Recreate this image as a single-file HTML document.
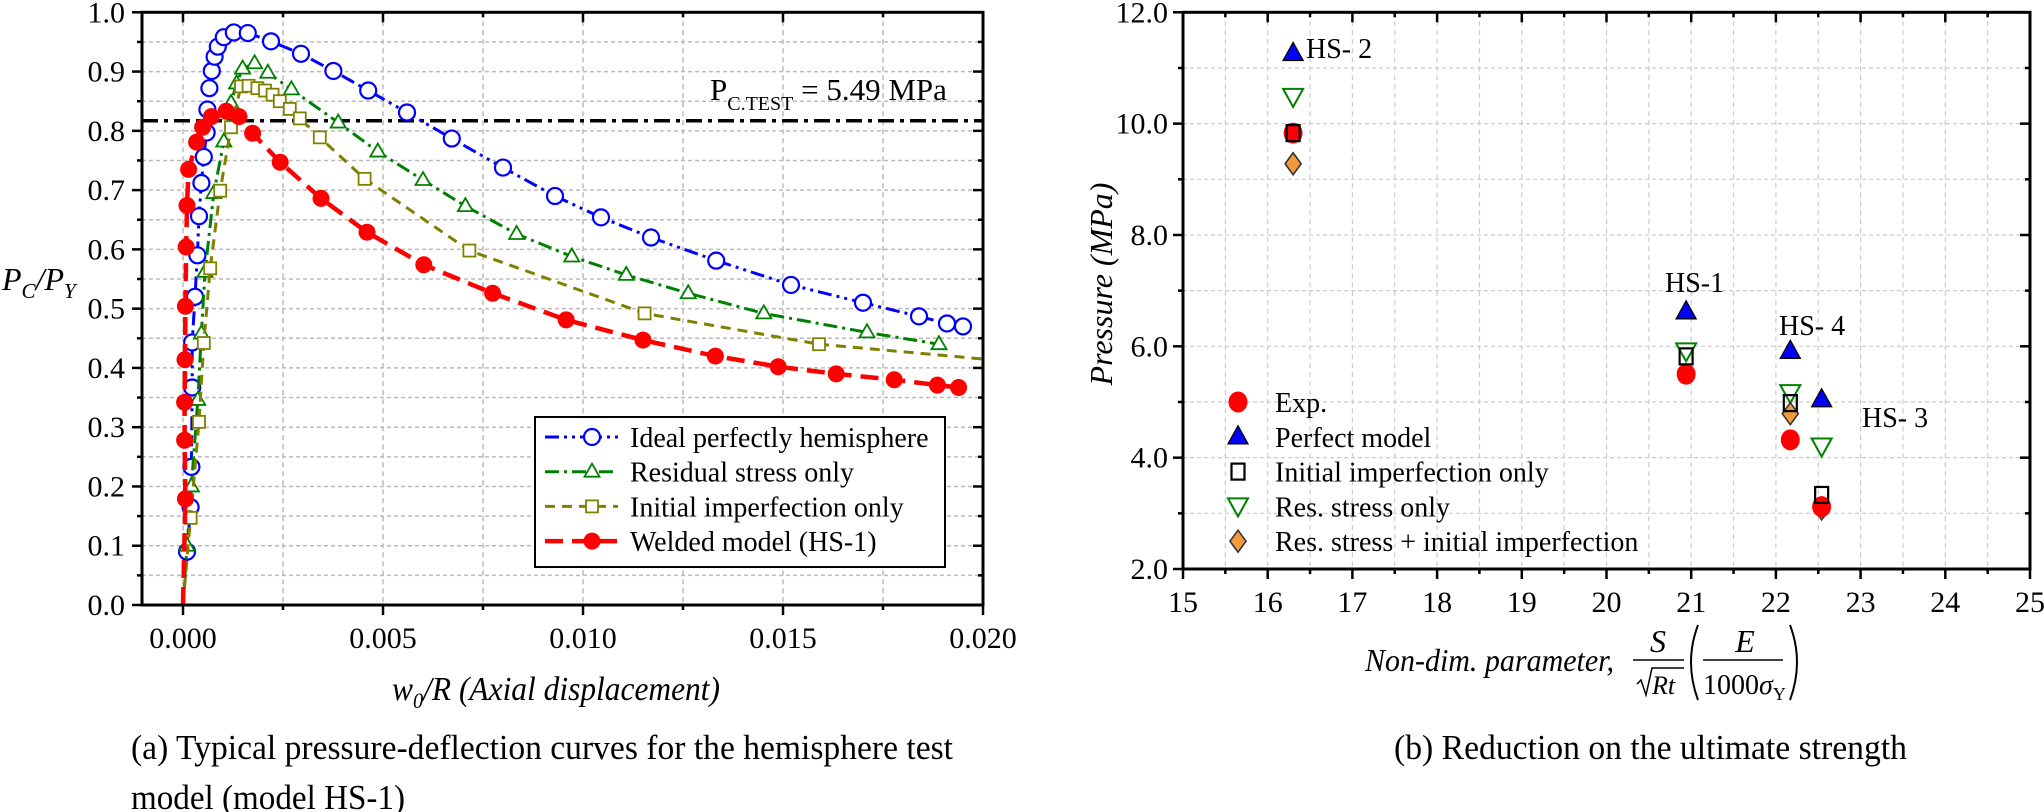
<!DOCTYPE html>
<html><head><meta charset="utf-8"><style>
html,body{margin:0;padding:0;background:#fff;}
svg{display:block;font-family:"Liberation Serif",serif;}
</style></head><body>
<svg id="fig" width="2044" height="812" viewBox="0 0 2044 812" xmlns="http://www.w3.org/2000/svg" font-family="Liberation Serif, serif">
<g id="left"></g>
<g id="right"></g>
<text x="131" y="759" font-size="35" textLength="822" lengthAdjust="spacingAndGlyphs">(a) Typical pressure-deflection curves for the hemisphere test</text>
<text x="131" y="809" font-size="35" textLength="274" lengthAdjust="spacingAndGlyphs">model (model HS-1)</text>
<text x="1394" y="759" font-size="35" textLength="513" lengthAdjust="spacingAndGlyphs">(b) Reduction on the ultimate strength</text>
</svg>
<script>
// ===== Left chart data =====
const idealX = [0,0.0001,0.00019,0.00021,0.00023,0.00023,0.0003,0.00036,0.0004,0.00046,0.00052,0.00059,0.00061,0.00066,0.00072,0.00079,0.00087,0.00102,0.00127,0.00162,0.0022,0.00295,0.00376,0.00463,0.0056,0.00672,0.008,0.0093,0.01045,0.0117,0.01333,0.0152,0.0170,0.0184,0.0191,0.0195];
const idealY = [0,0.09,0.165,0.233,0.367,0.443,0.52,0.59,0.656,0.712,0.756,0.797,0.836,0.872,0.901,0.925,0.942,0.958,0.966,0.965,0.951,0.93,0.901,0.868,0.831,0.787,0.738,0.69,0.654,0.62,0.581,0.54,0.51,0.487,0.475,0.47];
const resX = [0,0.0001,0.00021,0.00037,0.00046,0.00055,0.00077,0.00102,0.0012,0.00134,0.00149,0.00179,0.00212,0.00271,0.00388,0.00487,0.006,0.00706,0.00834,0.00972,0.01108,0.01263,0.01452,0.0171,0.0189];
const resY = [0,0.1,0.2,0.346,0.458,0.562,0.695,0.782,0.847,0.88,0.905,0.914,0.898,0.87,0.814,0.765,0.717,0.673,0.626,0.588,0.557,0.526,0.492,0.46,0.44];
const impX = [0,0.00019,0.0004,0.00052,0.00068,0.00093,0.0012,0.00145,0.00164,0.00186,0.00205,0.00224,0.00242,0.00267,0.00292,0.00342,0.00454,0.00716,0.01154,0.0159];
const impY = [0,0.147,0.309,0.442,0.568,0.699,0.806,0.875,0.876,0.872,0.868,0.861,0.85,0.837,0.821,0.789,0.719,0.598,0.492,0.44];
const impTailX = [0.0159,0.020];
const impTailY = [0.44,0.415];
const weldX = [0,0.00006,0.00004,0.00004,0.00005,0.00006,0.00008,0.0001,0.00014,0.00034,0.00049,0.00071,0.00108,0.0014,0.00174,0.00243,0.00345,0.0046,0.00602,0.00774,0.00958,0.0115,0.01331,0.01488,0.01633,0.01778,0.01886,0.01939];
const weldY = [0,0.179,0.278,0.342,0.414,0.504,0.604,0.674,0.735,0.781,0.806,0.824,0.833,0.824,0.796,0.747,0.686,0.629,0.574,0.526,0.481,0.447,0.42,0.402,0.39,0.38,0.371,0.367];
const pTest = 0.817;
const leftXTicks = [0,0.005,0.01,0.015,0.02];
const leftXTickLabels = ["0.000","0.005","0.010","0.015","0.020"];
const leftYTicks = [0,0.1,0.2,0.3,0.4,0.5,0.6,0.7,0.8,0.9,1.0];
const leftYTickLabels = ["0.0","0.1","0.2","0.3","0.4","0.5","0.6","0.7","0.8","0.9","1.0"];

// ===== Right chart data =====
const rightCats = ["HS-1","HS-2","HS-3","HS-4"];
const paramX = [20.94,16.30,22.54,22.17];
const expP = [5.50,9.83,3.12,4.32];
const perfectP = [6.62,11.26,5.04,5.91];
const initImpP = [5.82,9.83,3.33,4.98];
const resStressP = [5.91,10.48,4.20,5.16];
const comboP = [null,9.28,3.08,4.79];
const rightXTicks = [15,16,17,18,19,20,21,22,23,24,25];
const rightXTickLabels = ["15","16","17","18","19","20","21","22","23","24","25"];
const rightYTicks = [2,4,6,8,10,12];
const rightYTickLabels = ["2.0","4.0","6.0","8.0","10.0","12.0"];

const NS="http://www.w3.org/2000/svg";
function mk(parent,tag,attrs,text){const e=document.createElementNS(NS,tag);for(const k in attrs)e.setAttribute(k,attrs[k]);if(text!==undefined)e.textContent=text;parent.appendChild(e);return e;}

// ---------- LEFT ----------
const L=document.getElementById('left');
const LX0=142,LX1=983,LY0=12.3,LY1=605;
const lx=v=>183+v/0.005*200;
const ly=v=>605-v*592.7;
for(let i=0;i<=8;i++){const v=i*0.0025;const x=lx(v);
 const g=mk(L,'line',{x1:x,x2:x,y1:LY0,y2:LY1,stroke:'#bbb','stroke-width':1.5,'stroke-dasharray':'5 4'});
 
 }
for(let i=1;i<20;i++){const y=ly(i*0.05);
 const g=mk(L,'line',{x1:LX0,x2:LX1,y1:y,y2:y,stroke:'#bbb','stroke-width':1.5,'stroke-dasharray':'4 3'});
 
 }
for(let i=0;i<=8;i++){const x=lx(i*0.0025);const len=i%2===0?10:5;
 const t=mk(L,'line',{x1:x,x2:x,y1:LY1,y2:LY1+len,stroke:'#000','stroke-width':2.5});
 
 
 const t2=mk(L,'line',{x1:x,x2:x,y1:LY0,y2:LY0+len,stroke:'#000','stroke-width':2.5});
 
 }
for(let i=0;i<=20;i++){const y=ly(i*0.05);const len=i%2===0?10:5;
 const t=mk(L,'line',{x1:LX0-len,x2:LX0,y1:y,y2:y,stroke:'#000','stroke-width':2.5});
 
 
 const t2=mk(L,'line',{x1:LX1-len,x2:LX1,y1:y,y2:y,stroke:'#000','stroke-width':2.5});
 
 }
leftXTicks.forEach((v,i)=>{const t=mk(L,'text',{x:lx(v),y:648,'font-size':30,'text-anchor':'middle'},leftXTickLabels[i]);
 
 });
leftYTicks.forEach((v,i)=>{const t=mk(L,'text',{x:125,y:ly(v)+10,'font-size':30,'text-anchor':'end'},leftYTickLabels[i]);
 
 });
{const r=mk(L,'line',{x1:LX0,x2:LX1,y1:ly(pTest),y2:ly(pTest),stroke:'#000','stroke-width':3.5,'stroke-dasharray':'16 6 4 6'});
 
 
 const t=mk(L,'text',{x:710,y:100,'font-size':31});
 
 
 mk(t,'tspan',{},'P');mk(t,'tspan',{'font-size':20,dy:10},'C.TEST');mk(t,'tspan',{dy:-10},' = 5.49 MPa');}
function path(xs,ys,fx,fy){return xs.map((v,i)=>(i?'L':'M')+fx(v).toFixed(1)+' '+fy(ys[i]).toFixed(1)).join(' ');}
function series(name,xs,ys,color,dash,w,marker){
 const p=mk(L,'path',{d:path(xs,ys,lx,ly),fill:'none',stroke:color,'stroke-width':w,'stroke-dasharray':dash});
 
 
 xs.forEach((v,i)=>{if(i===0)return;const x=lx(v),y=ly(ys[i]);let m;
  if(marker==='circle')m=mk(L,'circle',{cx:x,cy:y,r:8,fill:'#fff',stroke:color,'stroke-width':2.2});
  else if(marker==='dot')m=mk(L,'circle',{cx:x,cy:y,r:8.5,fill:color});
  else if(marker==='tri')m=mk(L,'path',{d:`M${x} ${y-8}L${x+7.5} ${y+5}L${x-7.5} ${y+5}Z`,fill:'#fff',stroke:color,'stroke-width':1.8});
  else m=mk(L,'rect',{x:x-6,y:y-6,width:12,height:12,fill:'#fff',stroke:color,'stroke-width':1.8});
  
  });}
series('ideal',idealX,idealY,'#0000ff','14 5 3 5 3 5',3,'circle');
series('residual',resX,resY,'#008000','14 5 3 5',3,'tri');
{const p=mk(L,'path',{d:path(impTailX,impTailY,lx,ly),fill:'none',stroke:'#808000','stroke-width':3,'stroke-dasharray':'10 7'});
 
 }
series('imperfection',impX,impY,'#808000','10 7',3,'square');
series('welded',weldX,weldY,'#ff0000','18 9',4.5,'dot');
{const f=mk(L,'rect',{x:LX0,y:LY0,width:LX1-LX0,height:LY1-LY0,fill:'none',stroke:'#000','stroke-width':3});
 
 }
{const lg=mk(L,'g',{});
 
 
 mk(lg,'rect',{x:535,y:417,width:410,height:150,fill:'#fff',stroke:'#000','stroke-width':2});
 const items=[['Ideal perfectly hemisphere','#0000ff','14 5 3 5 3 5','circle'],['Residual stress only','#008000','14 5 3 5','tri'],['Initial imperfection only','#808000','10 7','square'],['Welded model (HS-1)','#ff0000','18 9','dot']];
 items.forEach((it,i)=>{const y=437+i*34.7;
  const e=mk(lg,'g',{});
  
  
  mk(e,'line',{x1:545,x2:618,y1:y,y2:y,stroke:it[1],'stroke-width':it[3]==='dot'?4.5:3,'stroke-dasharray':it[2]});
  const x=592;
  if(it[3]==='circle')mk(e,'circle',{cx:x,cy:y,r:8,fill:'#fff',stroke:it[1],'stroke-width':2.2});
  else if(it[3]==='dot')mk(e,'circle',{cx:x,cy:y,r:8.5,fill:it[1]});
  else if(it[3]==='tri')mk(e,'path',{d:`M${x} ${y-8}L${x+7.5} ${y+5}L${x-7.5} ${y+5}Z`,fill:'#fff',stroke:it[1],'stroke-width':1.8});
  else mk(e,'rect',{x:x-6,y:y-6,width:12,height:12,fill:'#fff',stroke:it[1],'stroke-width':1.8});
  mk(e,'text',{x:630,y:y+10,'font-size':28},it[0]);});}
{const t=mk(L,'text',{x:392,y:700,'font-size':34,'font-style':'italic',textLength:328,lengthAdjust:'spacingAndGlyphs'});
 
 
 mk(t,'tspan',{},'w');mk(t,'tspan',{'font-size':22,dy:8},'0');mk(t,'tspan',{dy:-8},'/R (Axial displacement)');
 const y=mk(L,'text',{x:2,y:290,'font-size':32,'font-style':'italic'});
 
 
 mk(y,'tspan',{},'P');mk(y,'tspan',{'font-size':21,dy:8},'C');mk(y,'tspan',{dy:-8},'/P');mk(y,'tspan',{'font-size':21,dy:8},'Y');}

// ---------- RIGHT ----------
const R=document.getElementById('right');
const RX0=1183,RX1=2030,RY0=12.3,RY1=569;
const rx=v=>1183+(v-15)*84.7;
const ry=v=>569-(v-2)*55.67;
for(let i=1;i<20;i++){const x=rx(15+i*0.5);
 const g=mk(R,'line',{x1:x,x2:x,y1:RY0,y2:RY1,stroke:'#ccc','stroke-width':1.2,'stroke-dasharray':'5 4'});
 
 }
for(let i=1;i<10;i++){const y=ry(2+i);
 const g=mk(R,'line',{x1:RX0,x2:RX1,y1:y,y2:y,stroke:'#ccc','stroke-width':1.2,'stroke-dasharray':'4 3'});
 
 }
for(let i=0;i<=20;i++){const x=rx(15+i*0.5);const len=i%2===0?10:5;
 const t=mk(R,'line',{x1:x,x2:x,y1:RY1,y2:RY1+len,stroke:'#000','stroke-width':2.5});
 
 
 const t2=mk(R,'line',{x1:x,x2:x,y1:RY0,y2:RY0+len,stroke:'#000','stroke-width':2.5});
 
 }
for(let i=0;i<=10;i++){const y=ry(2+i);const len=i%2===0?10:5;
 const t=mk(R,'line',{x1:RX0-len,x2:RX0,y1:y,y2:y,stroke:'#000','stroke-width':2.5});
 
 
 const t2=mk(R,'line',{x1:RX1-len,x2:RX1,y1:y,y2:y,stroke:'#000','stroke-width':2.5});
 
 }
rightXTicks.forEach((v,i)=>{const t=mk(R,'text',{x:rx(v),y:612,'font-size':30,'text-anchor':'middle'},rightXTickLabels[i]);
 
 });
rightYTicks.forEach((v,i)=>{const t=mk(R,'text',{x:1168,y:ry(v)+10,'font-size':30,'text-anchor':'end'},rightYTickLabels[i]);
 
 });
{const f=mk(R,'rect',{x:RX0,y:RY0,width:RX1-RX0,height:RY1-RY0,fill:'none',stroke:'#000','stroke-width':3});
 
 }
function rmark(parent,kind,x,y){
 if(kind==='exp')return mk(parent,'ellipse',{cx:x,cy:y,rx:9.5,ry:10.5,fill:'#ff0000'});
 if(kind==='perfect')return mk(parent,'path',{d:`M${x} ${y-11}L${x+10} ${y+7}L${x-10} ${y+7}Z`,fill:'#0000ff',stroke:'#000','stroke-width':1.3});
 if(kind==='imp')return mk(parent,'rect',{x:x-6.5,y:y-8,width:13,height:16,fill:'none',stroke:'#000','stroke-width':2.2});
 if(kind==='res')return mk(parent,'path',{d:`M${x-10} ${y-8}L${x+10} ${y-8}L${x} ${y+10}Z`,fill:'#fff',stroke:'#008000','stroke-width':2});
 return mk(parent,'path',{d:`M${x} ${y-11}L${x+8} ${y}L${x} ${y+11}L${x-8} ${y}Z`,fill:'#f39a3c',stroke:'#333','stroke-width':1.6});}
function rseries(kind,vals){vals.forEach((v,i)=>{if(v===null)return;
 const m=rmark(R,kind,rx(paramX[i]),ry(v));
 
 });}
rseries('perfect',perfectP);
rseries('res',resStressP);
rseries('combo',comboP);
rseries('exp',expP);
rseries('imp',initImpP);
[['HS- 2',1306,58],['HS-1',1665,292],['HS- 4',1779,335],['HS- 3',1862,427]].forEach(a=>{
 const t=mk(R,'text',{x:a[1],y:a[2],'font-size':28},a[0]);
 
 });
{const lg=mk(R,'g',{});
 
 
 [['exp','Exp.'],['perfect','Perfect model'],['imp','Initial imperfection only'],['res','Res. stress only'],['combo','Res. stress + initial imperfection']].forEach((it,i)=>{
  const y=402+i*34.8;
  const e=mk(lg,'g',{});
  
  
  rmark(e,it[0],1238,y);
  mk(e,'text',{x:1275,y:y+10,'font-size':28},it[1]);});}
{const y=mk(R,'text',{x:0,y:0,'font-size':32,'font-style':'italic','text-anchor':'middle',transform:'translate(1112 284) rotate(-90)'},'Pressure (MPa)');
 
 
 const g=mk(R,'g',{'font-style':'italic','font-size':32});
 
 
 mk(g,'text',{x:1365,y:671,textLength:249,lengthAdjust:'spacingAndGlyphs'},'Non-dim. parameter,');
 mk(g,'text',{x:1658,y:652,'text-anchor':'middle'},'S');
 mk(g,'line',{x1:1633,x2:1684,y1:660,y2:660,stroke:'#000','stroke-width':1.5});
 mk(g,'path',{d:'M1637 684 L1641 680 L1646 695 L1652 668 L1684 668',fill:'none',stroke:'#000','stroke-width':1.5});
 mk(g,'text',{x:1652,y:694,'font-size':26},'Rt');
 mk(g,'path',{d:'M1698 625 Q1684 662 1698 700',fill:'none',stroke:'#000','stroke-width':2});
 mk(g,'path',{d:'M1790 625 Q1804 662 1790 700',fill:'none',stroke:'#000','stroke-width':2});
 mk(g,'text',{x:1745,y:652,'text-anchor':'middle'},'E');
 mk(g,'line',{x1:1703,x2:1783,y1:660,y2:660,stroke:'#000','stroke-width':1.5});
 const d=mk(g,'text',{x:1703,y:694,'font-style':'normal','font-size':28});
 mk(d,'tspan',{},'1000');mk(d,'tspan',{'font-style':'italic'},'σ');mk(d,'tspan',{'font-size':18,dy:6,'font-style':'normal'},'Y');}
</script>
</body></html>
